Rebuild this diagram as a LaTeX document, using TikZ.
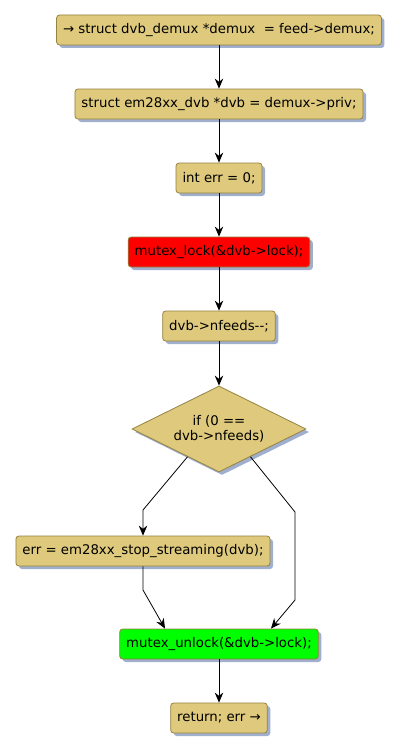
\documentclass[tikz,border=0pt]{standalone}
\usepackage{fontspec}
\setmainfont{DejaVu Sans}
\usepackage{xcolor}
\usetikzlibrary{arrows.meta,positioning,shapes.geometric,shadows,calc}
\definecolor{boxtan}{RGB}{222,201,125}
\definecolor{boxedge}{RGB}{150,130,65}
\definecolor{boxred}{RGB}{255,0,0}
\definecolor{boxgreen}{RGB}{0,255,0}
\definecolor{shade}{RGB}{160,175,205}

\begin{document}
\begin{tikzpicture}[
  x=1pt, y=-1pt,
  box/.style={
    draw=boxedge, rounded corners=3pt, line width=0.8pt,
    fill=boxtan, minimum height=30pt, inner xsep=6.5pt,
    font=\fontsize{13.3}{15}\selectfont,
    drop shadow={shadow xshift=3pt, shadow yshift=-3pt, fill=shade, opacity=1}
  },
  redbox/.style={box, fill=boxred},
  greenbox/.style={box, fill=boxgreen},
  decision/.style={
    draw=boxedge, diamond, aspect=2, inner sep=-8pt, line width=0.8pt,
    fill=boxtan, minimum width=174pt, minimum height=86pt,
    align=center, font=\fontsize{13.3}{15}\selectfont,
    drop shadow={shadow xshift=3pt, shadow yshift=-3pt, fill=shade, opacity=1}
  },
  arrow/.style={-{Stealth[length=10pt,width=8.5pt]}, line width=0.8pt, black}
]
\useasboundingbox (0,0) rectangle (402,752);

\node[box] (demux) at (219,30) {→ struct dvb\_demux *demux \ = feed->demux;};
\node[box] (dvb) at (219,104) {struct em28xx\_dvb *dvb = demux->priv;};
\node[box] (err) at (219,178) {int err = 0;};
\node[redbox] (lock) at (219,252) {mutex\_lock(\&dvb->lock);};
\node[box] (nfeeds) at (219,326) {dvb->nfeeds-{}-;};
\node[decision] (cond) at (219,429) {if (0 ==\\dvb->nfeeds)};
\node[box] (stop) at (143,551) {err = em28xx\_stop\_streaming(dvb);};
\node[greenbox] (unlock) at (219,644) {mutex\_unlock(\&dvb->lock);};
\node[box] (ret) at (219,718) {return; err →};

\coordinate (lbend) at (143,510);
\coordinate (rbend) at (295,512);
\coordinate (rdown) at (295,600);
\coordinate (sdown) at (143,590);

\draw[arrow] (demux) -- (dvb);
\draw[arrow] (dvb) -- (err);
\draw[arrow] (err) -- (lock);
\draw[arrow] (lock) -- (nfeeds);
\draw[arrow] (nfeeds) -- (cond);
\draw[arrow] ($(cond.west)!0.64!(cond.south)$) -- (lbend) -- (stop.north);
\draw[arrow] ($(cond.east)!0.64!(cond.south)$) -- (rbend) -- (rdown)
  -- ([xshift=52pt]unlock.north);
\draw[arrow] (stop.south) -- (sdown) -- ([xshift=-54pt]unlock.north);
\draw[arrow] (unlock) -- (ret);
\end{tikzpicture}
\end{document}
